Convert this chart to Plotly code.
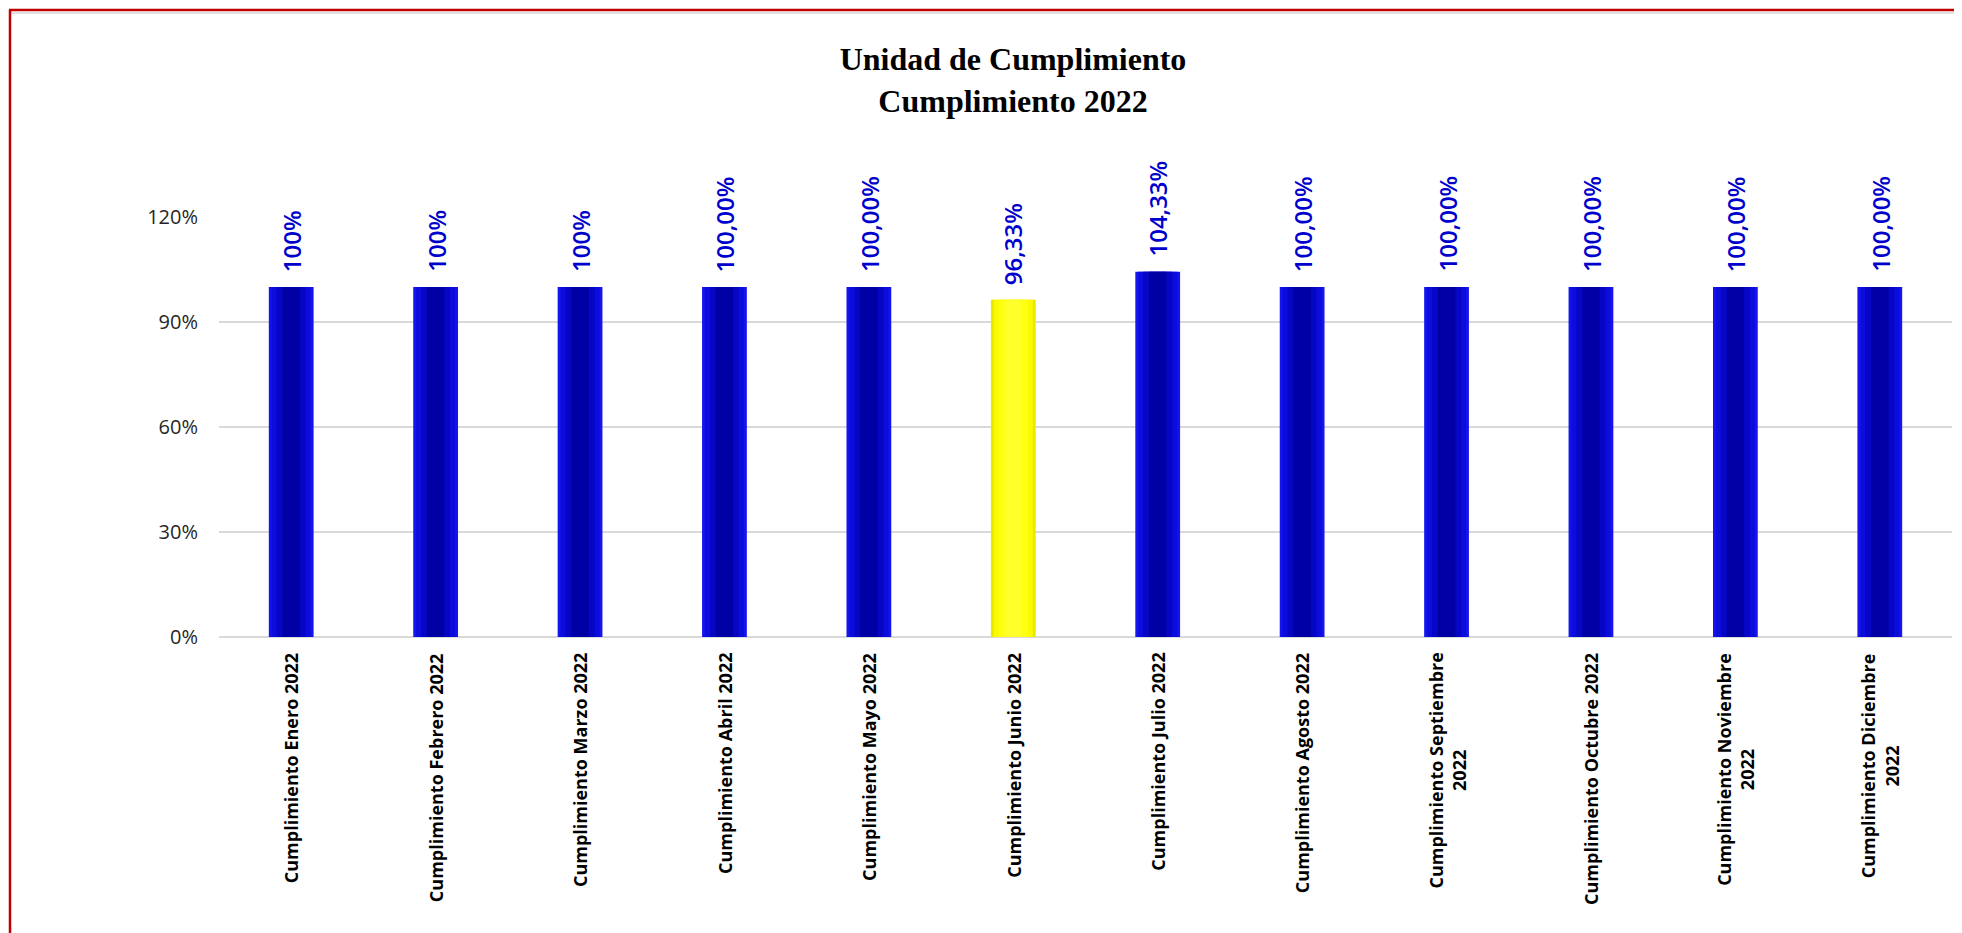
import plotly.graph_objects as go

categories = [
    "Cumplimiento Enero 2022",
    "Cumplimiento Febrero 2022",
    "Cumplimiento Marzo 2022",
    "Cumplimiento Abril 2022",
    "Cumplimiento Mayo 2022",
    "Cumplimiento Junio 2022",
    "Cumplimiento Julio 2022",
    "Cumplimiento Agosto 2022",
    "Cumplimiento Septiembre<br>2022",
    "Cumplimiento Octubre 2022",
    "Cumplimiento Noviembre<br>2022",
    "Cumplimiento Diciembre<br>2022",
]
values = [1.0, 1.0, 1.0, 1.0, 1.0, 0.9633, 1.0433, 1.0, 1.0, 1.0, 1.0, 1.0]
value_labels = ["100%", "100%", "100%", "100,00%", "100,00%", "96,33%",
                "104,33%", "100,00%", "100,00%", "100,00%", "100,00%", "100,00%"]
y_ticks = [0, 0.3, 0.6, 0.9, 1.2]
y_tick_labels = ["0%", "30%", "60%", "90%", "120%"]

highlight = "Cumplimiento Junio 2022"

# layered bars to fake the excel gradient (outer -> inner)
layers = [
    (0.31, "#1414EC", "#E8E800"),
    (0.27, "#0C0CDC", "#FAFA00"),
    (0.20, "#0606C4", "#FFFF12"),
    (0.12, "#0000A4", "#FFFF2A"),
]

fig = go.Figure()
for w, blue, yellow in layers:
    colors = [yellow if c == highlight else blue for c in categories]
    fig.add_trace(go.Bar(
        x=categories,
        y=values,
        width=w,
        marker=dict(color=colors, line=dict(width=0)),
        hoverinfo="skip",
        showlegend=False,
    ))

W, H = 1954, 925
L, R, T, B = 211, 10, 209, 296
pw, ph = W - L - R, H - T - B


def px_x(p):
    return (p - L) / pw


def px_y(p):
    return (H - B - p) / ph


annotations = []
for cat, v, lab in zip(categories, values, value_labels):
    annotations.append(dict(
        x=cat, y=v, xref="x", yref="y", text=lab, showarrow=False,
        textangle=-90, xanchor="center", yanchor="bottom", yshift=13,
        font=dict(family="Open Sans", size=24, color="#0000CC", weight=600),
    ))
    annotations.append(dict(
        x=cat, y=0, xref="x", yref="y", text=cat, showarrow=False,
        textangle=-90, xanchor="center", yanchor="top", yshift=-14,
        align="center",
        font=dict(family="Open Sans", size=18, color="black", weight="bold"),
    ))

fig.update_layout(
    width=W,
    height=H,
    barmode="overlay",
    plot_bgcolor="white",
    paper_bgcolor="white",
    margin=dict(l=L, r=R, t=T, b=B, pad=0),
    title=dict(
        text="<b>Unidad de Cumplimiento<br>Cumplimiento 2022</b>",
        x=1005 / W,
        xanchor="center",
        y=1 - 62 / H,
        yanchor="top",
        font=dict(family="Liberation Serif", size=32, color="black"),
    ),
    xaxis=dict(
        type="category",
        showgrid=False,
        showline=False,
        ticks="",
        showticklabels=False,
    ),
    yaxis=dict(
        range=[0, 1.2],
        tickvals=y_ticks,
        ticktext=y_tick_labels,
        showgrid=True,
        gridcolor="#D9D9D9",
        gridwidth=2,
        zeroline=True,
        zerolinecolor="#D9D9D9",
        zerolinewidth=2,
        showline=False,
        ticks="",
        ticklabelstandoff=20,
        tickfont=dict(family="Open Sans", size=20, color="#262626"),
    ),
    annotations=annotations,
    shapes=[
        dict(type="line", xref="paper", yref="paper",
             x0=px_x(3), x1=px_x(W + 5), y0=px_y(5), y1=px_y(5),
             line=dict(color="#E0E0E0", width=2)),
        dict(type="line", xref="paper", yref="paper",
             x0=px_x(1), x1=px_x(W + 5), y0=px_y(2), y1=px_y(2),
             line=dict(color="#C00000", width=2.5)),
        dict(type="line", xref="paper", yref="paper",
             x0=px_x(2), x1=px_x(2), y0=px_y(2), y1=px_y(H + 5),
             line=dict(color="#C00000", width=2.5)),
    ],
)

fig.write_html("out.html")
